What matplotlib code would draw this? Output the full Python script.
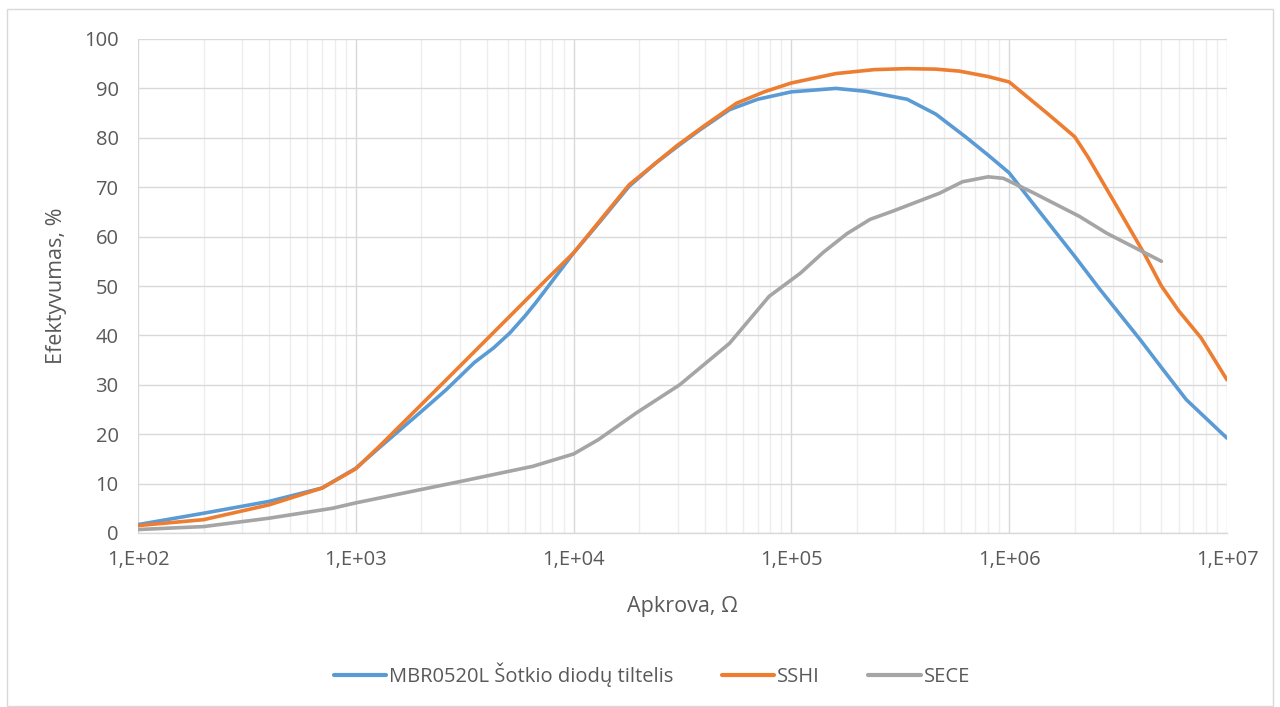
import math
import matplotlib
matplotlib.use("Agg")
import matplotlib.pyplot as plt
from matplotlib.ticker import LogLocator, FixedLocator, FuncFormatter, NullFormatter
from matplotlib.patches import Rectangle

# Load resistance (ohm) and efficiency (%) for each rectifier
mbr_r = [100, 200, 400, 700, 1000, 1300, 2000, 2600, 3500, 4300, 5100, 6000, 6700,
         8300, 10000, 12700, 18000, 24000, 30700, 38000, 52000, 70000, 100000,
         160000, 220000, 340000, 460000, 630000, 800000, 1000000, 1250000, 2000000,
         2600000, 4000000, 5000000, 6500000, 10000000]
mbr_eff = [1.7, 4.0, 6.4, 9.1, 13.1, 17.5, 24.6, 29.0, 34.5, 37.5, 40.5, 44.0, 46.6,
           52.0, 56.7, 62.1, 70.2, 75.0, 78.6, 81.6, 85.7, 87.8, 89.3,
           90.0, 89.4, 87.8, 84.8, 80.2, 76.5, 72.9, 67.4, 56.0,
           49.4, 39.1, 33.5, 27.0, 19.2]

sshi_r = [100, 200, 400, 700, 1000, 1300, 2600, 5100, 7500, 10000, 18000, 30000,
          40000, 56000, 75000, 100000, 160000, 240000, 340000, 460000, 590000, 800000,
          1000000, 1500000, 2000000, 2300000, 3000000, 4200000, 5000000, 6000000,
          7600000, 10000000]
sshi_eff = [1.5, 2.7, 5.7, 9.1, 13.0, 17.8, 31.0, 43.9, 51.3, 56.7, 70.5, 78.5,
            82.5, 87.0, 89.3, 91.1, 93.0, 93.8, 94.0, 93.9, 93.5, 92.4,
            91.3, 84.9, 80.2, 76.1, 67.4, 56.3, 50.0, 45.0,
            39.5, 31.0]

sece_r = [100, 200, 400, 780, 1000, 3000, 6500, 10000, 13000, 19400, 30700, 52000,
          79000, 110000, 140000, 180000, 230000, 290000, 480000, 610000, 800000,
          940000, 1300000, 2100000, 2800000, 5000000]
sece_eff = [0.7, 1.3, 3.0, 5.0, 6.1, 10.4, 13.5, 16.0, 18.9, 24.3, 30.0, 38.4,
            47.9, 52.6, 56.8, 60.6, 63.5, 65.1, 68.8, 71.1, 72.1,
            71.8, 68.8, 64.1, 60.7, 55.0]

series_names = ["MBR0520L Šotkio diodų tiltelis", "SSHI", "SECE"]
series_colors = ["#5B9BD5", "#ED7D31", "#A5A5A5"]

x_ticks = [1e2, 1e3, 1e4, 1e5, 1e6, 1e7]
y_ticks = list(range(0, 101, 10))

plt.rcParams["font.family"] = ["Open Sans", "DejaVu Sans"]

fig = plt.figure(figsize=(12.8, 7.07), dpi=100)
fig.patch.set_facecolor("white")

# light chart frame
fig.patches.append(Rectangle((7 / 1280, 1 - 706 / 707), 1266 / 1280, 697 / 707,
                             transform=fig.transFigure, fill=False,
                             edgecolor="#D9D9D9", linewidth=1.0))

ax = fig.add_axes([138 / 1280, 1 - 533 / 707, (1227 - 138) / 1280, (533 - 39) / 707])
ax.set_xscale("log")
ax.set_xlim(1e2, 1e7)
ax.set_ylim(0, 100)

for xs, ys, name, col in zip([mbr_r, sshi_r, sece_r], [mbr_eff, sshi_eff, sece_eff],
                             series_names, series_colors):
    ax.plot(xs, ys, color=col, linewidth=2.6, label=name,
            solid_joinstyle="round", solid_capstyle="round", zorder=3)

ax.xaxis.set_major_locator(FixedLocator(x_ticks))
ax.xaxis.set_minor_locator(LogLocator(base=10, subs=range(2, 10)))
ax.xaxis.set_minor_formatter(NullFormatter())
ax.xaxis.set_major_formatter(FuncFormatter(lambda v, p: "1,E+%02d" % round(math.log10(v))))
ax.yaxis.set_major_locator(FixedLocator(y_ticks))

ax.grid(which="major", axis="both", color="#D9D9D9", linewidth=1.0, zorder=0)
ax.grid(which="minor", axis="x", color="#EDEDED", linewidth=1.0, zorder=0)
ax.set_axisbelow(True)

for s in ["top", "right", "left"]:
    ax.spines[s].set_visible(False)
ax.spines["bottom"].set_color("#D9D9D9")
ax.spines["bottom"].set_linewidth(1.0)

ax.tick_params(which="both", length=0)
ax.tick_params(axis="x", labelsize=14.5, labelcolor="#595959", pad=12)
ax.tick_params(axis="y", labelsize=14.5, labelcolor="#595959", pad=14)

ax.set_xlabel("Apkrova, Ω", fontsize=15.5, color="#595959", labelpad=19)
ax.set_ylabel("Efektyvumas, %", fontsize=15.5, color="#595959", labelpad=12)

leg = fig.legend(loc="center", bbox_to_anchor=(652 / 1280, 1 - 675 / 707), ncol=3,
                 frameon=False, fontsize=14.5, handlelength=2.6, columnspacing=2.4,
                 handletextpad=0.15)
for t in leg.get_texts():
    t.set_color("#595959")
for h in leg.get_lines():
    h.set_linewidth(3.0)

fig.savefig("out.png", dpi=100, facecolor="white")
